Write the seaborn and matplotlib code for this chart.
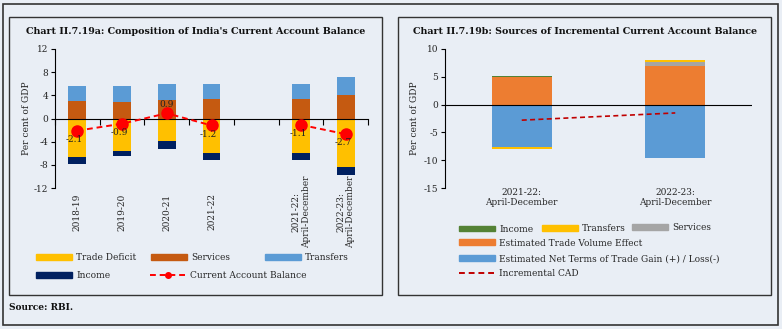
import matplotlib
matplotlib.use("Agg")
import matplotlib.pyplot as plt
from matplotlib.patches import Rectangle, Patch
from matplotlib.lines import Line2D
from matplotlib.ticker import FixedLocator, NullFormatter
import seaborn as sns
import numpy as np
import pandas as pd

# ---------------- data ----------------
left_cats = ["2018-19", "2019-20", "2020-21", "2021-22",
             "2021-22:\nApril-December", "2022-23:\nApril-December"]
left_gap_after = "2021-22"          # empty slot between annual and Apr-Dec bars
trade_deficit = [-6.7, -5.6, -3.9, -6.0, -5.9, -8.4]
services      = [3.0, 2.9, 3.2, 3.3, 3.4, 4.1]
transfers     = [2.6, 2.7, 2.8, 2.6, 2.6, 3.0]
income        = [-1.1, -0.9, -1.3, -1.2, -1.3, -1.4]
cab           = [-2.1, -0.9, 0.9, -1.2, -1.1, -2.7]
cab_groups    = ["annual", "annual", "annual", "annual", "aprdec", "aprdec"]

right_cats = ["2021-22:\nApril-December", "2022-23:\nApril-December"]
r_trade_volume = [5.0, 7.0]
r_terms_trade  = [-7.6, -9.6]
r_services     = [0.0, 0.7]
r_transfers    = [-0.3, 0.4]
r_income       = [0.2, 0.0]
incremental_cad = [-2.8, -1.5]

# ---------------- style ----------------
W, H = 782, 329
BG = "#E9EEF5"
FONT = "DejaVu Serif"
sns.set_theme(style="white")
plt.rcParams["font.family"] = [FONT]
plt.rcParams["axes.facecolor"] = BG
plt.rcParams["figure.facecolor"] = BG
plt.rcParams["axes.unicode_minus"] = False

C_TD, C_SERV, C_TRANS, C_INC, C_CAB = "#FFC000", "#C55A11", "#5B9BD5", "#002060", "#FF0000"
R_INC, R_TRANS, R_SERV, R_TVE, R_TOT, R_CAD = "#548235", "#FFC000", "#A5A5A5", "#ED7D31", "#5B9BD5", "#C00000"

fig = plt.figure(figsize=(W / 100, H / 100), dpi=100)


def px_rect(x0, y0, x1, y1):
    return [x0 / W, 1 - y1 / H, (x1 - x0) / W, (y1 - y0) / H]


# frames
outer = Rectangle((3 / W, 1 - 325 / H), 775 / W, 321 / H, transform=fig.transFigure,
                  fill=False, edgecolor="#333333", linewidth=1.2)
fig.add_artist(outer)
for x0 in (9, 398):
    r = px_rect(x0, 17, x0 + 373, 295)
    fig.add_artist(Rectangle((r[0], r[1]), r[2], r[3], transform=fig.transFigure,
                             fill=False, edgecolor="#333333", linewidth=1.0))


def stacked(ax, cats, order, series, colors, width):
    pos = np.zeros(len(cats))
    neg = np.zeros(len(cats))
    for vals, col in zip(series, colors):
        v = np.asarray(vals, dtype=float)
        bottom = np.where(v >= 0, pos, neg)
        sns.barplot(x=cats, y=v, order=order, bottom=bottom, color=col, saturation=1,
                    width=width, edgecolor="none", linewidth=0, ax=ax)
        pos = pos + np.where(v >= 0, v, 0)
        neg = neg + np.where(v < 0, v, 0)


# ---------------- left chart ----------------
AX_L = (55, 49, 368, 188)
axL = fig.add_axes(px_rect(*AX_L))
gi = left_cats.index(left_gap_after) + 1
order_L = left_cats[:gi] + [" "] + left_cats[gi:]
stacked(axL, left_cats, order_L, [trade_deficit, services, transfers, income],
        [C_TD, C_SERV, C_TRANS, C_INC], 0.4)

xpos = np.array([order_L.index(c) for c in left_cats])
df_cab = pd.DataFrame({"x": xpos, "cab": cab, "g": cab_groups})
for g, sub in df_cab.groupby("g"):
    axL.plot(sub["x"], sub["cab"], color=C_CAB, linestyle=(0, (3, 2)), linewidth=1.4,
             marker="o", markersize=8, zorder=5)
for x, v in zip(xpos, cab):
    if v >= 0:
        axL.annotate(f"{v:.1f}", (x, v), xytext=(0, 3), textcoords="offset points",
                     ha="center", va="bottom", fontsize=6.5, color="#222222", zorder=6)
    else:
        axL.annotate(f"{v:.1f}", (x, v), xytext=(-2, -3), textcoords="offset points",
                     ha="center", va="top", fontsize=6.5, color="#222222", zorder=6)

ylo, yhi = -12, 12
axL.set_ylim(ylo, yhi)
axL.set_yticks(np.arange(ylo, yhi + 1, 4))
axL.set_xlim(-0.5, len(order_L) - 0.5)
# bottom spine sits on the zero line; boundary ticks as minor ticks
axL.spines["bottom"].set_position(("data", 0))
axL.spines["bottom"].set_color("black")
axL.spines["bottom"].set_linewidth(0.8)
axL.set_xticks(range(len(order_L)))
axL.set_xticklabels(order_L, rotation=90, fontsize=6.5, va="center", ha="center",
                    multialignment="center")
axL.xaxis.set_minor_locator(FixedLocator(np.arange(-0.5, len(order_L), 1.0)))
axL.xaxis.set_minor_formatter(NullFormatter())
ax_h = AX_L[3] - AX_L[1]
zero_px_above_bottom = ax_h * (0 - ylo) / (yhi - ylo)
label_center_below_bottom = 24
axL.tick_params(axis="x", which="major", length=0,
                pad=(zero_px_above_bottom + label_center_below_bottom) * 0.72)
axL.tick_params(axis="x", which="minor", length=4, width=0.8, direction="out", color="black",
                bottom=True)
axL.tick_params(axis="y", length=3, width=0.8, pad=2, labelsize=6.5, left=True, direction="out",
                color="black")
for s in ("top", "right"):
    axL.spines[s].set_visible(False)
axL.spines["left"].set_color("black")
axL.spines["left"].set_linewidth(0.8)
axL.set_xlabel("")
axL.set_ylabel("Per cent of GDP", fontsize=6.5, color="#222222")
axL.yaxis.set_label_coords(-(55 - 31) / 313, 0.5)

# ---------------- right chart ----------------
axR = fig.add_axes(px_rect(445, 49, 752, 188))
stacked(axR, right_cats, right_cats, [r_trade_volume, r_terms_trade, r_services, r_transfers, r_income],
        [R_TVE, R_TOT, R_SERV, R_TRANS, R_INC], 0.39)
xr = np.arange(len(right_cats))
axR.plot(xr, incremental_cad, color=R_CAD, linestyle=(0, (3, 2)), linewidth=1.2, zorder=5)
axR.axhline(0, color="black", linewidth=0.8, zorder=4)
axR.set_ylim(-15, 10)
axR.set_yticks(np.arange(-15, 11, 5))
axR.set_xlim(-0.5, 1.5)
axR.set_xticks(xr)
axR.set_xticklabels(right_cats, fontsize=6.5, multialignment="center")
axR.tick_params(axis="x", length=0, pad=0)
axR.tick_params(axis="y", length=3, width=0.8, pad=2, labelsize=6.5, left=True, direction="out",
                color="black")
for s in ("top", "right", "bottom"):
    axR.spines[s].set_visible(False)
axR.spines["left"].set_color("black")
axR.spines["left"].set_linewidth(0.8)
axR.set_xlabel("")
axR.set_ylabel("Per cent of GDP", fontsize=6.5, color="#222222")
axR.yaxis.set_label_coords(-(445 - 419) / 307, 0.5)

# ---------------- titles / source ----------------
fig.text(196 / W, 1 - 31.7 / H, "Chart II.7.19a: Composition of India's Current Account Balance",
         ha="center", va="center", fontsize=6.85, fontweight="bold", color="#111111")
fig.text(585 / W, 1 - 31.7 / H, "Chart II.7.19b: Sources of Incremental Current Account Balance",
         ha="center", va="center", fontsize=6.85, fontweight="bold", color="#111111")
fig.text(9 / W, 1 - 307.5 / H, "Source: RBI.", ha="left", va="center", fontsize=6.5,
         fontweight="bold", color="#111111")


# ---------------- legends ----------------
def add_leg(handle, label, xpx, ypx):
    fig.legend([handle], [label], loc="center left", bbox_to_anchor=(xpx / W, 1 - ypx / H),
               frameon=False, borderpad=0, borderaxespad=0, handlelength=4.0,
               handletextpad=0.45, fontsize=6.5, handleheight=0.6)


add_leg(Patch(color=C_TD), "Trade Deficit", 36, 257.7)
add_leg(Patch(color=C_SERV), "Services", 151, 257.7)
add_leg(Patch(color=C_TRANS), "Transfers", 265, 257.7)
add_leg(Patch(color=C_INC), "Income", 36, 275.7)
add_leg(Line2D([], [], color=C_CAB, linestyle=(0, (3, 2)), linewidth=1.4, marker="o", markersize=4),
        "Current Account Balance", 150, 275.7)

add_leg(Patch(color=R_INC), "Income", 459, 229.3)
add_leg(Patch(color=R_TRANS), "Transfers", 542, 228.7)
add_leg(Patch(color=R_SERV), "Services", 632, 228)
add_leg(Patch(color=R_TVE), "Estimated Trade Volume Effect", 459, 243)
add_leg(Patch(color=R_TOT), "Estimated Net Terms of Trade Gain (+) / Loss(-)", 459, 258.7)
add_leg(Line2D([], [], color=R_CAD, linestyle=(0, (3, 2)), linewidth=1.4), "Incremental CAD", 459, 273.3)

fig.savefig("out.png", dpi=100, facecolor=BG)
